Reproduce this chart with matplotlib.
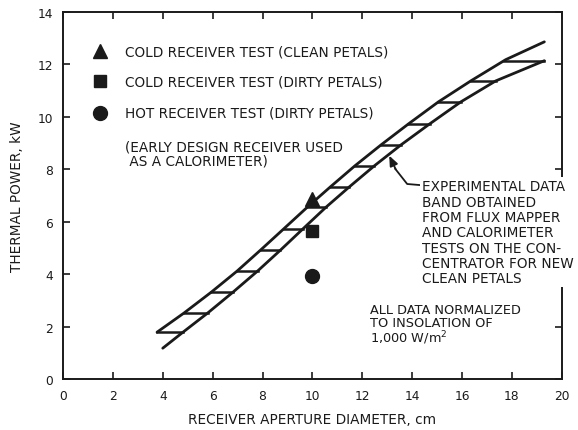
import numpy as np
import matplotlib
matplotlib.use("Agg")
import matplotlib.pyplot as plt

# Experimental data band (receiver aperture diameter in cm vs thermal power in kW)
upper_x = [3.77, 4.85, 5.95, 6.98, 7.92, 8.85, 9.80, 10.72, 11.70, 12.75, 13.85, 15.05, 16.35, 17.75, 19.30]
upper_y = [1.79, 2.52, 3.32, 4.12, 4.92, 5.73, 6.56, 7.33, 8.13, 8.93, 9.73, 10.57, 11.37, 12.18, 12.86]
lower_x = [4.00, 4.77, 5.80, 6.82, 7.80, 8.72, 9.62, 10.55, 11.48, 12.48, 13.55, 14.70, 15.95, 17.35, 19.30]
lower_y = [1.18, 1.76, 2.52, 3.32, 4.12, 4.92, 5.73, 6.56, 7.33, 8.13, 8.93, 9.73, 10.57, 11.37, 12.14]
hatch_y = [1.79, 2.52, 3.32, 4.12, 4.92, 5.73, 6.56, 7.33, 8.13, 8.93, 9.73, 10.57, 11.37, 12.14]

# Receiver test points
test_labels = ["COLD RECEIVER TEST (CLEAN PETALS)",
               "COLD RECEIVER TEST (DIRTY PETALS)",
               "HOT RECEIVER TEST (DIRTY PETALS)"]
test_markers = ["^", "s", "o"]
test_x = [10.0, 10.0, 10.0]
test_y = [6.85, 5.65, 3.95]

x_ticks = [0, 2, 4, 6, 8, 10, 12, 14, 16, 18, 20]
y_ticks = [0, 2, 4, 6, 8, 10, 12, 14]

ink = "#1a1a1a"
plt.rcParams["font.family"] = ["DejaVu Sans"]

fig = plt.figure(figsize=(5.78, 4.31), dpi=100)
ax = fig.add_axes([0.109, 0.118, 0.863, 0.852])
ax.set_xlim(0, 20)
ax.set_ylim(0, 14)

# Band edges
ax.plot(upper_x, upper_y, color=ink, lw=2.0, solid_capstyle="round", zorder=3)
ax.plot(lower_x, lower_y, color=ink, lw=2.0, solid_capstyle="round", zorder=3)
# Horizontal hatching between the edges
ux = np.interp(hatch_y, upper_y, upper_x)
lx = np.interp(hatch_y, lower_y, lower_x)
for yv, x0, x1 in zip(hatch_y, ux, lx):
    ax.plot([x0, x1], [yv, yv], color=ink, lw=1.8, zorder=3)

# Test points
sizes = [10.5, 9, 10]
for m, xv, yv, s in zip(test_markers, test_x, test_y, sizes):
    ax.plot(xv, yv, marker=m, ms=s, color=ink, ls="none", zorder=4)

# Key in upper left
key_y = [12.5, 11.35, 10.15]
for m, lab, yv, s in zip(test_markers, test_labels, key_y, sizes):
    ax.plot(1.5, yv, marker=m, ms=s, color=ink, ls="none", clip_on=False)
    ax.text(2.5, yv, lab, fontsize=9.8, color=ink, va="center", ha="left")
ax.text(2.5, 8.6, "(EARLY DESIGN RECEIVER USED\n AS A CALORIMETER)", fontsize=9.8,
        color=ink, va="center", ha="left", linespacing=1.0)

# Band annotation with arrow
ax.text(14.4, 7.62, "EXPERIMENTAL DATA\nBAND OBTAINED\nFROM FLUX MAPPER\nAND CALORIMETER\n"
        "TESTS ON THE CON-\nCENTRATOR FOR NEW\nCLEAN PETALS",
        fontsize=9.8, color=ink, va="top", ha="left", linespacing=1.12,
        bbox=dict(facecolor="white", edgecolor="none", pad=1.5), clip_on=False, zorder=5)
ax.plot([14.3, 13.8, 13.32], [7.40, 7.44, 8.02], color=ink, lw=1.3, zorder=3)
ax.annotate("", xy=(13.08, 8.52), xytext=(13.34, 8.0),
            arrowprops=dict(arrowstyle="-|>,head_length=0.6,head_width=0.25",
                            color=ink, lw=1.3, shrinkA=0, shrinkB=0))

ax.text(12.3, 2.9, "ALL DATA NORMALIZED\nTO INSOLATION OF\n1,000 W/m$^2$",
        fontsize=9.3, color=ink, va="top", ha="left", linespacing=0.98)

# Axes styling
ax.set_xticks(x_ticks)
ax.set_yticks(y_ticks)
ax.tick_params(direction="in", length=5, width=1.2, colors=ink, labelsize=8.8,
               top=True, right=True, pad=7)
for sp in ax.spines.values():
    sp.set_linewidth(1.4)
    sp.set_color(ink)

ax.set_xlabel("RECEIVER APERTURE DIAMETER, cm", fontsize=9.8, color=ink, labelpad=7)
ax.set_ylabel("THERMAL POWER, kW", fontsize=9.8, color=ink, labelpad=10)

fig.savefig("out.png", dpi=100)
